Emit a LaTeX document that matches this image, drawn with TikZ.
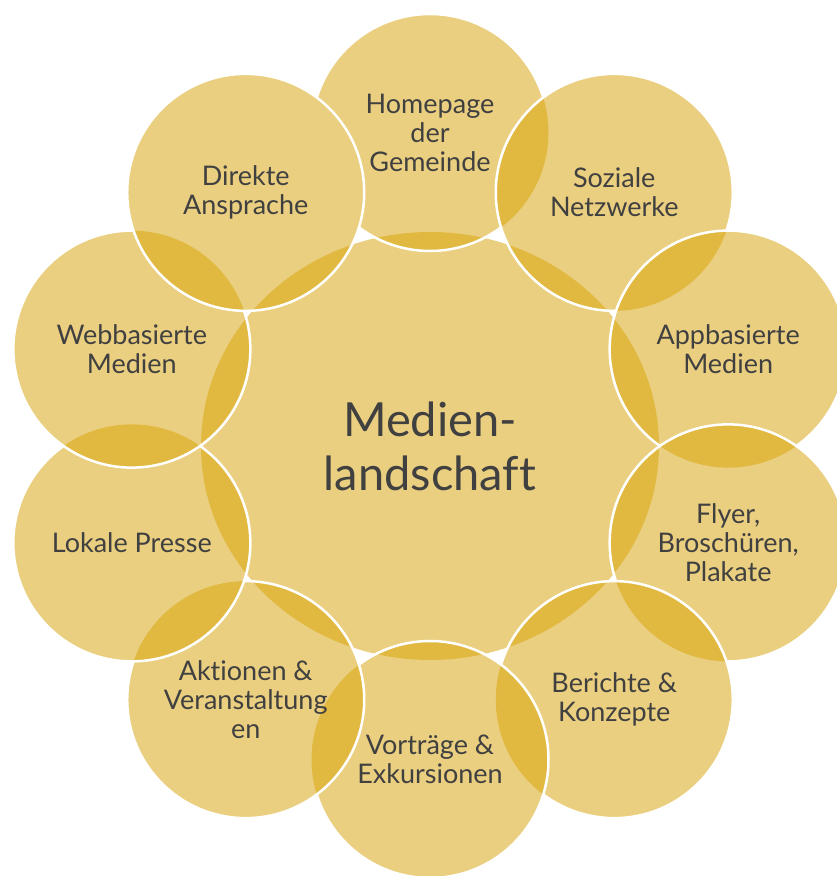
\documentclass[tikz,border=0pt]{standalone}
\usepackage{fontspec}
\setmainfont{Lato}[Ligatures=NoCommon]
\definecolor{bubblefill}{HTML}{EACF80}
\definecolor{lensfill}{HTML}{E1B941}
\definecolor{labelgray}{HTML}{404040}
\begin{document}
\begin{tikzpicture}[x=1pt,y=1pt,
		bubble/.style={fill=bubblefill},
		lens/.style={fill=lensfill},
		rim/.style={draw=white,line width=2.5pt},
		label/.style={text=labelgray,align=center,font=\fontsize{27}{29}\selectfont},
		core/.style={text=labelgray,align=center,font=\fontsize{47}{54}\selectfont}]
		\useasboundingbox (0,0) rectangle (837,876);
		\coordinate (M) at (430,430);
		\path (M) ++(90:313.5) coordinate (home);
		\path (M) ++(54:313.5) coordinate (social);
		\path (M) ++(18:313.5) coordinate (app);
		\path (M) ++(-18:313.5) coordinate (flyer);
		\path (M) ++(-54:313.5) coordinate (report);
		\path (M) ++(-90:313.5) coordinate (talk);
		\path (M) ++(-126:313.5) coordinate (event);
		\path (M) ++(-162:313.5) coordinate (press);
		\path (M) ++(162:313.5) coordinate (web);
		\path (M) ++(126:313.5) coordinate (direct);
		% middle ellipse first, then the ring clockwise
		\fill[bubble] (M) ellipse (229 and 214);
		\foreach \cur/\prev in {home/direct, social/home, app/social, flyer/app, report/flyer,
			talk/report, event/talk, press/event, web/press, direct/web}{
			\fill[bubble] (\cur) circle (118.5);
			\begin{scope}
				\clip (\cur) circle (118.5);
				\fill[lens] (M) ellipse (229 and 214);
				\fill[lens] (\prev) circle (118.5);
			\end{scope}
			\draw[rim] (\cur) circle (118.5);
		}
		\node[core] (Mt) at (M) {Medien-\\landschaft};
		\node[label] (homet) at (home) {Homepage\\der\\Gemeinde};
		\node[label] (socialt) at (social) {Soziale\\Netzwerke};
		\node[label] (appt) at (app) {Appbasierte\\Medien};
		\node[label] (flyert) at (flyer) {Flyer,\\Broschüren,\\Plakate};
		\node[label] (reportt) at (report) {Berichte \&\\Konzepte};
		\node[label] (talkt) at (talk) {Vorträge \&\\Exkursionen};
		\node[label] (eventt) at (event) {Aktionen \&\\Veranstaltung\\en};
		\node[label] (presst) at (press) {Lokale Presse};
		\node[label] (webt) at (web) {Webbasierte\\Medien};
		\node[label] (directt) at (direct) {Direkte\\Ansprache};
		\end{tikzpicture}
\end{document}
